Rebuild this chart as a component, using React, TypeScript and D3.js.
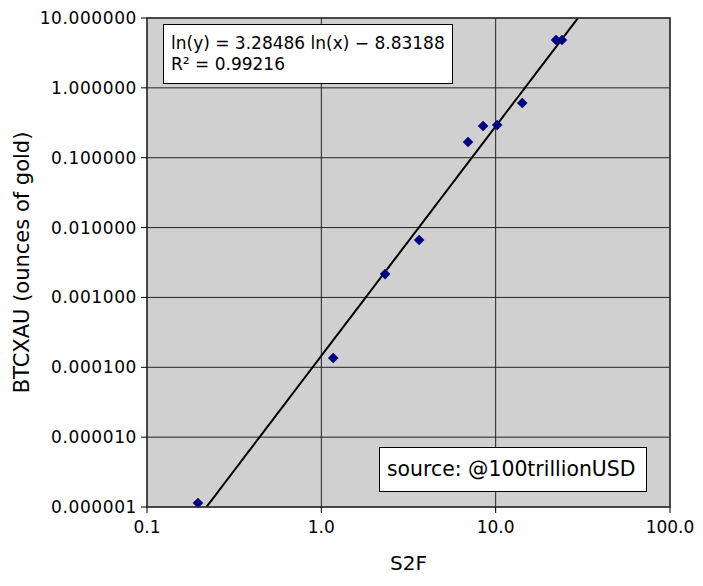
import React, { useEffect, useRef } from "react";
import * as d3 from "d3";

const s2f = [0.196, 1.17, 2.32, 3.64, 6.94, 8.47, 10.2, 14.2, 22.2, 24.0];
const btcxau = [1.14e-6, 1.36e-4, 2.16e-3, 6.64e-3, 0.168, 0.284, 0.294, 0.607, 4.84, 4.84];
const xTicks = [0.1, 1, 10, 100];
const yTicks = [1e-6, 1e-5, 1e-4, 1e-3, 1e-2, 1e-1, 1, 10];
const slope = 3.28486;
const intercept = -8.83188;
const equationText = "ln(y) = 3.28486 ln(x) \u2212 8.83188";
const r2Text = "R\u00B2 = 0.99216";
const sourceText = "source: @100trillionUSD";
const xTitle = "S2F";
const yTitle = "BTCXAU (ounces of gold)";

export default function App() {
  const ref = useRef<SVGSVGElement>(null);
  useEffect(() => {
    const svg = d3.select(ref.current);
    svg.selectAll("*").remove();
    const W = 703, H = 586;
    const L = 147, R = 670, T = 18, B = 507;
    const font = "DejaVu Sans, sans-serif";
    const x = d3.scaleLog().domain([0.1, 100]).range([L, R]);
    const y = d3.scaleLog().domain([1e-6, 10]).range([B, T]);

    svg.append("rect").attr("width", W).attr("height", H).attr("fill", "#fff");
    svg.append("rect").attr("x", L).attr("y", T).attr("width", R - L).attr("height", B - T).attr("fill", "#d0d0d0");

    const clip = svg.append("defs").append("clipPath").attr("id", "plotclip");
    clip.append("rect").attr("x", L).attr("y", T).attr("width", R - L).attr("height", B - T);

    // grid
    const g = svg.append("g");
    xTicks.forEach((t) => {
      g.append("line").attr("x1", x(t)).attr("x2", x(t)).attr("y1", T).attr("y2", B).attr("stroke", "#222").attr("stroke-width", 1);
    });
    yTicks.forEach((t) => {
      g.append("line").attr("x1", L).attr("x2", R).attr("y1", y(t)).attr("y2", y(t)).attr("stroke", "#222").attr("stroke-width", 1);
    });

    // trend line
    const lineX = d3.range(0, 101).map((i) => 0.1 * Math.pow(1000, i / 100));
    const trend = lineX.map((v) => [v, Math.exp(slope * Math.log(v) + intercept)] as [number, number]);
    svg.append("path")
      .attr("clip-path", "url(#plotclip)")
      .attr("d", d3.line<[number, number]>().x((d) => x(d[0])).y((d) => y(d[1]))(trend) as string)
      .attr("fill", "none").attr("stroke", "#000").attr("stroke-width", 2);

    // points
    const sym = d3.symbol().type(d3.symbolDiamond2).size(72);
    s2f.forEach((v, i) => {
      svg.append("path").attr("d", sym() as string)
        .attr("transform", `translate(${x(v)},${y(btcxau[i])})`)
        .attr("fill", "#000080");
    });

    // border
    svg.append("rect").attr("x", L).attr("y", T).attr("width", R - L).attr("height", B - T)
      .attr("fill", "none").attr("stroke", "#333").attr("stroke-width", 1.5);

    // y ticks
    const yf = (v: number) => v.toFixed(6);
    yTicks.forEach((t) => {
      svg.append("line").attr("x1", L - 6).attr("x2", L).attr("y1", y(t)).attr("y2", y(t)).attr("stroke", "#000");
      svg.append("text").attr("x", L - 10).attr("y", y(t)).attr("dy", "0.35em").attr("text-anchor", "end")
        .attr("font-family", font).attr("font-size", 17).attr("letter-spacing", 0.6).text(yf(t));
    });
    // x ticks
    xTicks.forEach((t) => {
      svg.append("line").attr("x1", x(t)).attr("x2", x(t)).attr("y1", B).attr("y2", B + 6).attr("stroke", "#000");
      svg.append("text").attr("x", x(t)).attr("y", B + 26).attr("text-anchor", "middle")
        .attr("font-family", font).attr("font-size", 17).text(t.toFixed(1));
    });

    svg.append("text").attr("x", (L + R) / 2).attr("y", 570).attr("text-anchor", "middle")
      .attr("font-family", font).attr("font-size", 20).text(xTitle);
    svg.append("text").attr("transform", `translate(29,${(T + B) / 2}) rotate(-90)`).attr("text-anchor", "middle")
      .attr("font-family", font).attr("font-size", 21).text(yTitle);

    // equation box
    svg.append("rect").attr("x", 163.5).attr("y", 24.5).attr("width", 289).attr("height", 59)
      .attr("fill", "#fff").attr("stroke", "#000");
    svg.append("text").attr("x", 171).attr("y", 49).attr("font-family", font).attr("font-size", 17).text(equationText);
    svg.append("text").attr("x", 171).attr("y", 70).attr("font-family", font).attr("font-size", 17).text(r2Text);

    // source box
    svg.append("rect").attr("x", 379.5).attr("y", 447.5).attr("width", 267).attr("height", 44)
      .attr("fill", "#fff").attr("stroke", "#000");
    svg.append("text").attr("x", 387).attr("y", 476).attr("font-family", font).attr("font-size", 20.4).text(sourceText);
  }, []);
  return <svg ref={ref} width={703} height={586} style={{ position: "absolute", left: 0, top: 0 }} />;
}
